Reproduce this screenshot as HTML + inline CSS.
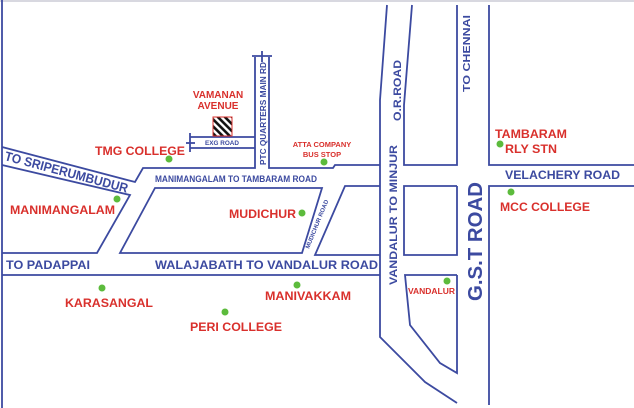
<!DOCTYPE html>
<html><head><meta charset="utf-8"><style>
html,body{margin:0;padding:0;background:#fff;}
svg{display:block;}
text{font-family:"Liberation Sans",sans-serif;font-weight:bold;}
.b{fill:#3c4aa0;}
.r{fill:#d9302c;}
.g{fill:#5cbb3c;}
</style></head><body>
<svg width="634" height="408" viewBox="0 0 634 408" xmlns="http://www.w3.org/2000/svg">
<rect width="634" height="408" fill="#fff"/>
<line x1="0" y1="1" x2="634" y2="1" stroke="#d8d8e0" stroke-width="2"/>
<g fill="none" stroke="#3c4aa0" stroke-width="1.8" stroke-linejoin="miter">
<line x1="2" y1="0" x2="2" y2="408"/>
<polyline points="2,147 135,182 143,168 255,168 255,57"/>
<polyline points="269,57 269,168 333,168 335,165 380,165" />
<polyline points="387,5 380,100 380,337 425,382 457,403"/>
<line x1="252" y1="56" x2="272" y2="56"/>
<line x1="262" y1="51" x2="262" y2="62"/>
<line x1="190" y1="137" x2="255" y2="137"/>
<line x1="190" y1="148" x2="255" y2="148"/>
<line x1="190" y1="133" x2="190" y2="152"/>
<line x1="186" y1="143" x2="195" y2="143"/>
<polyline points="2,165 130,195 97,253 2,253"/>
<polygon points="155,188 322,188 302,253 120,253"/>
<polyline points="380,255 315,255 345,186 380,186"/>
<line x1="2" y1="275" x2="380" y2="275"/>
<polyline points="412,5 404,105 404,165 457,165 457,5"/>
<polyline points="457,186 404,186 404,255 457,255 457,186"/>
<polyline points="457,275 405,275 410,325 440,363 457,373 457,275"/>
<polyline points="489,5 489,165 634,165"/>
<polyline points="634,186 489,186 489,405"/>
</g>
<defs><pattern id="h" width="5" height="5" patternUnits="userSpaceOnUse" patternTransform="rotate(-45)"><rect width="5" height="5" fill="#fff"/><rect width="2.6" height="5" fill="#111"/></pattern></defs>
<rect x="213" y="117" width="19" height="19" fill="url(#h)" stroke="#d9302c" stroke-width="1"/>
<g class="g">
<circle cx="169" cy="159" r="3.5"/><circle cx="324" cy="162" r="3.5"/>
<circle cx="117" cy="199" r="3.5"/><circle cx="302" cy="213" r="3.5"/>
<circle cx="102" cy="288" r="3.5"/><circle cx="225" cy="312" r="3.5"/>
<circle cx="297" cy="285" r="3.5"/><circle cx="447" cy="281" r="3.5"/>
<circle cx="500" cy="144" r="3.5"/><circle cx="511" cy="192" r="3.5"/>
</g>
<g class="b">
<text x="0" y="0" font-size="13" transform="translate(4,160) rotate(15)" textLength="127" lengthAdjust="spacingAndGlyphs">TO SRIPERUMBUDUR</text>
<text x="155" y="182" font-size="9" textLength="162" lengthAdjust="spacingAndGlyphs">MANIMANGALAM TO TAMBARAM ROAD</text>
<text x="205" y="145" font-size="6" textLength="34" lengthAdjust="spacingAndGlyphs">EXG ROAD</text>
<text x="0" y="0" font-size="8.5" transform="translate(266,165) rotate(-90)" textLength="103" lengthAdjust="spacingAndGlyphs">PTC QUARTERS MAIN RD</text>
<text x="0" y="0" font-size="6" transform="translate(309,249) rotate(-68)" textLength="52" lengthAdjust="spacingAndGlyphs">MUDICHUR ROAD</text>
<text x="6" y="269" font-size="11.5" textLength="84" lengthAdjust="spacingAndGlyphs">TO PADAPPAI</text>
<text x="155" y="269" font-size="11.5" textLength="223" lengthAdjust="spacingAndGlyphs">WALAJABATH TO VANDALUR ROAD</text>
<text x="0" y="0" font-size="11" transform="translate(397,285) rotate(-90)" textLength="140" lengthAdjust="spacingAndGlyphs">VANDALUR TO MINJUR</text>
<text x="0" y="0" font-size="11" transform="translate(401,121) rotate(-90)" textLength="61" lengthAdjust="spacingAndGlyphs">O.R.ROAD</text>
<text x="0" y="0" font-size="10" transform="translate(470,92) rotate(-90)" textLength="77" lengthAdjust="spacingAndGlyphs">TO CHENNAI</text>
<text x="0" y="0" font-size="20" transform="translate(482,301) rotate(-90)" textLength="119" lengthAdjust="spacingAndGlyphs">G.S.T ROAD</text>
<text x="505" y="179" font-size="11.5" textLength="115" lengthAdjust="spacingAndGlyphs">VELACHERY ROAD</text>
</g>
<g class="r">
<text x="218" y="98" font-size="10" text-anchor="middle" font-family="Liberation Serif">VAMANAN</text>
<text x="218" y="109" font-size="10" text-anchor="middle" font-family="Liberation Serif">AVENUE</text>
<text x="95" y="155" font-size="12" textLength="90" lengthAdjust="spacingAndGlyphs">TMG COLLEGE</text>
<text x="322" y="147" font-size="7.5" text-anchor="middle">ATTA COMPANY</text>
<text x="322" y="157" font-size="7.5" text-anchor="middle">BUS STOP</text>
<text x="10" y="214" font-size="12" textLength="105" lengthAdjust="spacingAndGlyphs">MANIMANGALAM</text>
<text x="229" y="218" font-size="12" textLength="67" lengthAdjust="spacingAndGlyphs">MUDICHUR</text>
<text x="65" y="307" font-size="12" textLength="88" lengthAdjust="spacingAndGlyphs">KARASANGAL</text>
<text x="265" y="300" font-size="12" textLength="86" lengthAdjust="spacingAndGlyphs">MANIVAKKAM</text>
<text x="190" y="331" font-size="12" textLength="92" lengthAdjust="spacingAndGlyphs">PERI COLLEGE</text>
<text x="408" y="294" font-size="8" textLength="47" lengthAdjust="spacingAndGlyphs">VANDALUR</text>
<text x="495" y="138" font-size="12" textLength="72" lengthAdjust="spacingAndGlyphs">TAMBARAM</text>
<text x="505" y="153" font-size="12" textLength="52" lengthAdjust="spacingAndGlyphs">RLY STN</text>
<text x="500" y="211" font-size="12" textLength="90" lengthAdjust="spacingAndGlyphs">MCC COLLEGE</text>
</g>
</svg>
</body></html>
